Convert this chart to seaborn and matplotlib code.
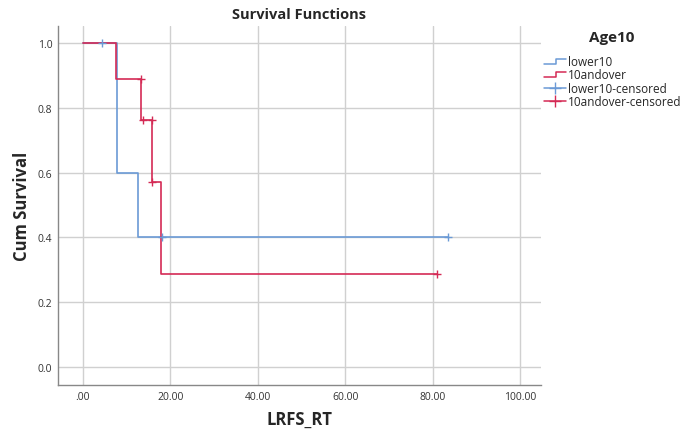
import numpy as np
import pandas as pd
import matplotlib
matplotlib.use("Agg")
import matplotlib.pyplot as plt
import seaborn as sns
from matplotlib.legend_handler import HandlerBase
from matplotlib.lines import Line2D

# ---- data ----
groups = ["lower10", "10andover"]
lower10_time = [0.0, 7.9, 12.6, 83.6]
lower10_surv = [1.0, 0.6, 0.4, 0.4]
over10_time = [0.0, 7.5, 13.4, 15.9, 17.8, 80.9]
over10_surv = [1.0, 0.889, 0.762, 0.571, 0.286, 0.286]

lower10_cens_time = [4.3, 18.0, 83.6]
lower10_cens_surv = [1.0, 0.4, 0.4]
over10_cens_time = [13.4, 13.8, 15.7, 15.8, 80.9]
over10_cens_surv = [0.889, 0.762, 0.762, 0.571, 0.286]

x_ticks = [0, 20, 40, 60, 80, 100]
x_tick_labels = [".00", "20.00", "40.00", "60.00", "80.00", "100.00"]
y_ticks = [0.0, 0.2, 0.4, 0.6, 0.8, 1.0]

blue = "#6b9ad6"
red = "#d42a55"
palette = {"lower10": blue, "10andover": red}

steps = pd.DataFrame({
    "time": lower10_time + over10_time,
    "surv": lower10_surv + over10_surv,
    "group": ["lower10"] * len(lower10_time) + ["10andover"] * len(over10_time),
})
cens = pd.DataFrame({
    "time": lower10_cens_time + over10_cens_time,
    "surv": lower10_cens_surv + over10_cens_surv,
    "group": ["lower10"] * len(lower10_cens_time) + ["10andover"] * len(over10_cens_time),
})

sns.set_theme(style="white")
plt.rcParams["font.family"] = ["Open Sans", "DejaVu Sans"]

fig = plt.figure(figsize=(6.94, 4.35), dpi=100)
ax = fig.add_axes([58 / 694, 1 - 386 / 435, (541 - 58) / 694, (386 - 27) / 435])

ax.grid(True, color="#d0d0d0", linewidth=1.0)
ax.set_axisbelow(True)

sns.lineplot(data=steps, x="time", y="surv", hue="group", palette=palette,
             drawstyle="steps-post", estimator=None, sort=False, linewidth=1.2,
             ax=ax, legend=False)
for g in groups:
    sub = cens[cens["group"] == g]
    ax.scatter(sub["time"], sub["surv"], marker="+", s=30, color=palette[g],
               linewidths=1.0, zorder=3)

ax.set_xlim(-5.7, 104.8)
ax.set_ylim(-0.0556, 1.0525)
ax.set_xticks(x_ticks)
ax.set_xticklabels(x_tick_labels)
ax.set_yticks(y_ticks)
ax.set_yticklabels([f"{v:.1f}" for v in y_ticks])
ax.tick_params(axis="both", labelsize=7.5, colors="#333333", length=0, pad=4)

for s in ["top", "right"]:
    ax.spines[s].set_visible(False)
for s in ["left", "bottom"]:
    ax.spines[s].set_color("#888888")
    ax.spines[s].set_linewidth(1.0)

ax.set_xlabel("LRFS_RT", fontsize=12, fontweight="bold")
ax.set_ylabel("Cum Survival", fontsize=12, fontweight="bold")
ax.xaxis.set_label_coords(0.5, (386 - 420) / 359)
ax.yaxis.set_label_coords((22 - 58) / 483, 0.5)
ax.xaxis.label.set_va("center")
ax.yaxis.label.set_va("center")
fig.text(299.5 / 694, 1 - 15 / 435, "Survival Functions", ha="center", va="center",
         fontsize=10.5, fontweight="bold")
fig.text(612 / 694, 1 - 38 / 435, "Age10", ha="center", va="center",
         fontsize=11, fontweight="bold")


class StepHandler(HandlerBase):
    def create_artists(self, legend, orig_handle, xdescent, ydescent, width, height,
                       fontsize, trans):
        w, h = width, height
        xs = [0, w * 0.55, w * 0.55, w]
        ys = [h * 0.2, h * 0.2, h * 0.8, h * 0.8]
        l = Line2D(xs, ys, color=orig_handle.get_color(), linewidth=1.1, transform=trans)
        return [l]


h1 = Line2D([], [], color=blue)
h2 = Line2D([], [], color=red)
h3 = Line2D([], [], color=blue, marker="+", markersize=9, linewidth=1.1, markeredgewidth=1.0)
h4 = Line2D([], [], color=red, marker="+", markersize=9, linewidth=1.1, markeredgewidth=1.0)
leg = fig.legend([h1, h2, h3, h4],
                 ["lower10", "10andover", "lower10-censored", "10andover-censored"],
                 handler_map={h1: StepHandler(), h2: StepHandler()},
                 loc="upper left", bbox_to_anchor=(536 / 694, 1 - 48 / 435),
                 frameon=False, fontsize=8.5, handlelength=1.8,
                 handletextpad=0.2, labelspacing=0.02, borderpad=0.2)

fig.savefig("out.png", dpi=100)
